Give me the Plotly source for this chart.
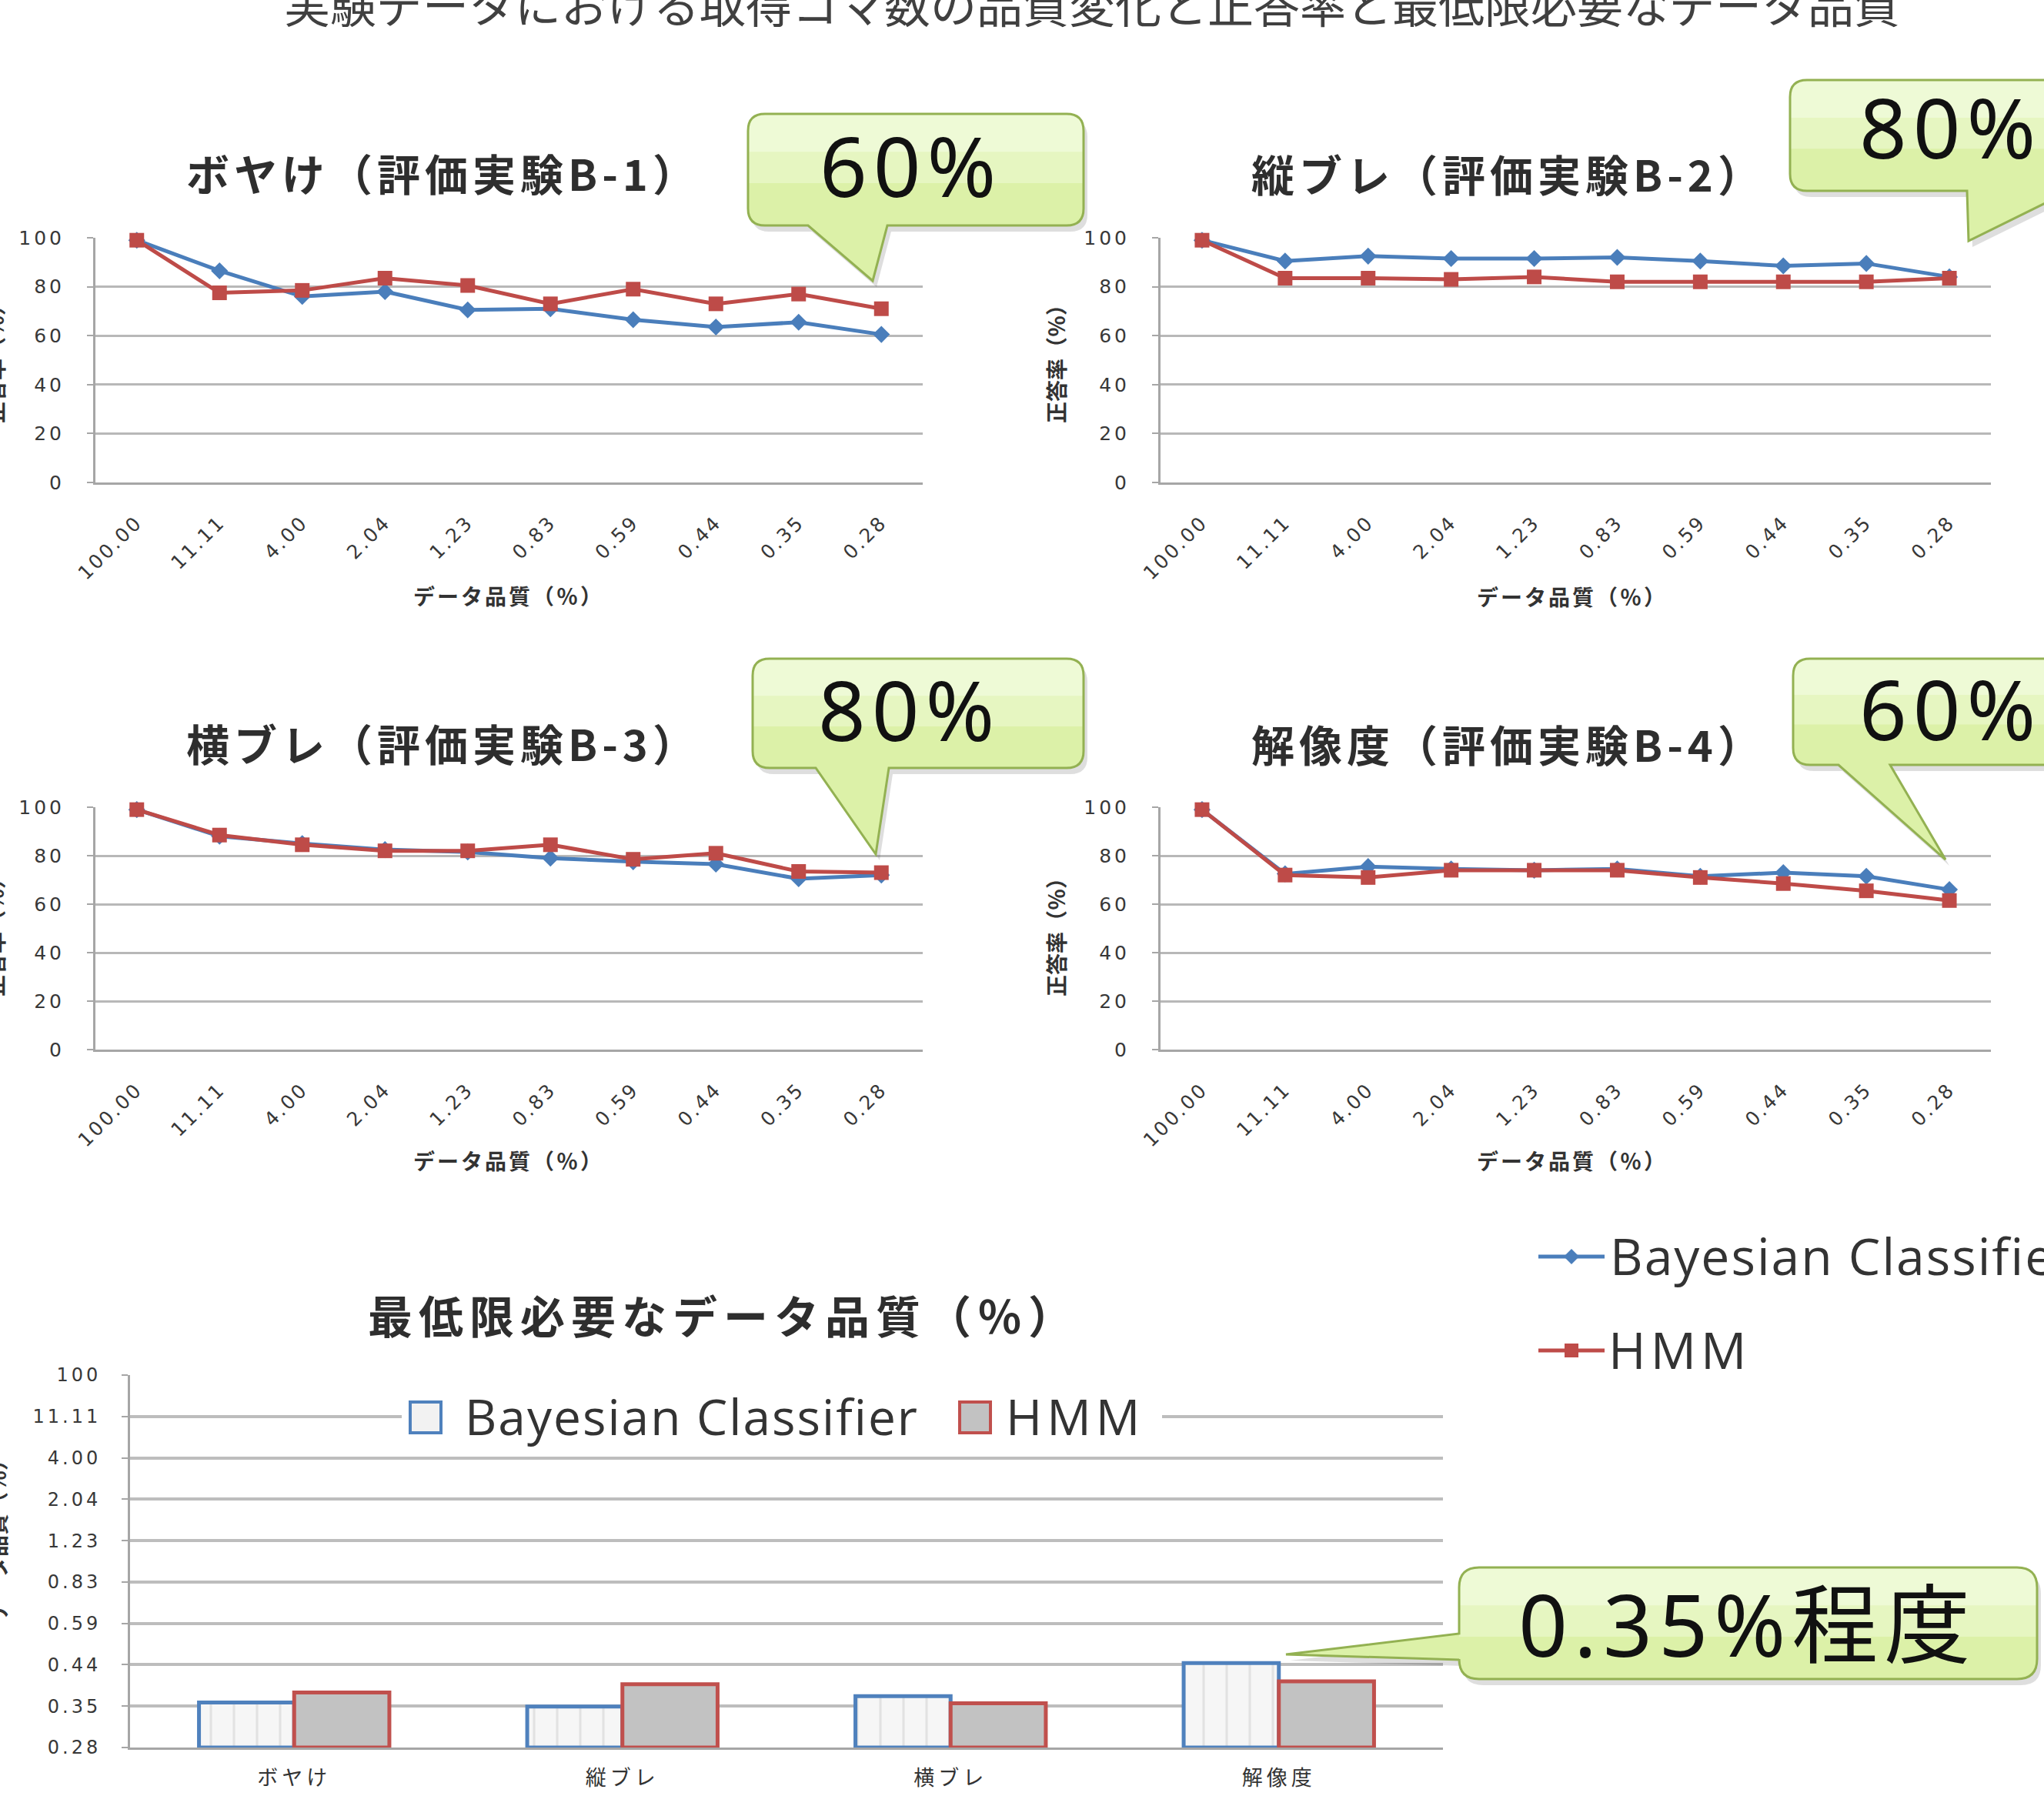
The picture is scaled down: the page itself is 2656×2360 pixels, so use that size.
import plotly.graph_objects as go

W, H = 2656, 2360

# ---------------- data ----------------
quality_labels = ['100.00', '11.11', '4.00', '2.04', '1.23', '0.83', '0.59', '0.44', '0.35', '0.28']

blur_bayes = [99, 86.5, 76, 78, 70.5, 71, 66.5, 63.5, 65.5, 60.5]
blur_hmm = [99, 77.5, 78.5, 83.5, 80.5, 73, 79, 73, 77, 71]

vshake_bayes = [99, 90.5, 92.5, 91.5, 91.5, 92, 90.5, 88.5, 89.5, 84]
vshake_hmm = [99, 83.5, 83.5, 83, 84, 82, 82, 82, 82, 83.5]

hshake_bayes = [99, 88, 85, 82.5, 81.5, 79, 77.5, 76.5, 70.5, 72]
hshake_hmm = [99, 88.5, 84.5, 82, 82, 84.5, 78.5, 81, 73.5, 73]

reso_bayes = [99, 72.5, 75.5, 74.5, 74, 74.5, 71.5, 73, 71.5, 66]
reso_hmm = [99, 72, 71, 74, 74, 74, 71, 68.5, 65.5, 61.5]

accuracy_ticks = [0, 20, 40, 60, 80, 100]

panel_titles = ['ボヤけ（評価実験B-1）', '縦ブレ（評価実験B-2）', '横ブレ（評価実験B-3）', '解像度（評価実験B-4）']
panel_notes = ['60%', '80%', '80%', '60%']

bar_categories = ['ボヤけ', '縦ブレ', '横ブレ', '解像度']
# bar heights on the quality-level scale (0 = 0.28 %, 9 = 100 %)
bayes_min_level = [1.09, 0.99, 1.24, 2.04]
hmm_min_level = [1.33, 1.53, 1.07, 1.60]
level_labels = ['0.28', '0.35', '0.44', '0.59', '0.83', '1.23', '2.04', '4.00', '11.11', '100']
bar_note = '0.35%程度'

series_names = ['Bayesian Classifier', 'HMM']
main_title = '実験データにおける取得コマ数の品質変化と正答率と最低限必要なデータ品質'
x_title = 'データ品質（％）'
y_title = '正答率（％）'
bar_title = '最低限必要なデータ品質（％）'

BLUE = '#4a7ebb'
RED = '#be4b48'
GRID = '#b8b8b8'
AXIS = '#a6a6a6'
TXT = '#3a3a3a'
JP = 'Noto Sans CJK JP'


def fx(x):
    return x / W


def fy(y):
    return 1 - y / H


def pt(x, y):
    return f'{fx(x):.5f},{fy(y):.5f}'


def spaced(s, px):
    """Wrap text in a span with extra letter spacing (wide Excel-style lettering)."""
    return f'<span style="letter-spacing:{px}px">{s}</span>'


# ---------------- figure ----------------
fig = go.Figure()

panels = [
    (blur_bayes, blur_hmm, (124, 1199), (309, 627)),
    (vshake_bayes, vshake_hmm, (1508, 2587), (309, 627)),
    (hshake_bayes, hshake_hmm, (124, 1199), (1049, 1364)),
    (reso_bayes, reso_hmm, (1508, 2587), (1049, 1364)),
]

layout_axes = {}
for i, (bayes, hmm, (x0, x1), (y0, y1)) in enumerate(panels, start=1):
    xa = 'x' if i == 1 else f'x{i}'
    ya = 'y' if i == 1 else f'y{i}'
    fig.add_trace(go.Scatter(
        x=quality_labels, y=bayes, xaxis=xa, yaxis=ya, mode='lines+markers',
        name=series_names[0], showlegend=False, cliponaxis=False,
        line=dict(color=BLUE, width=5),
        marker=dict(symbol='diamond', size=17, color=BLUE)))
    fig.add_trace(go.Scatter(
        x=quality_labels, y=hmm, xaxis=xa, yaxis=ya, mode='lines+markers',
        name=series_names[1], showlegend=False, cliponaxis=False,
        line=dict(color=RED, width=5),
        marker=dict(symbol='square', size=19, color=RED)))
    layout_axes['xaxis' if i == 1 else f'xaxis{i}'] = dict(
        domain=[fx(x0), fx(x1)], anchor=ya, type='category', range=[-0.5, 9.5],
        automargin=False,
        tickmode='array', tickvals=quality_labels,
        ticktext=[spaced(t, 3) for t in quality_labels],
        showgrid=False, showline=True, linecolor=AXIS, linewidth=3,
        ticks='', tickangle=-45, ticklabelstandoff=24,
        tickfont=dict(size=25, color='#383838', family='DejaVu Sans'))
    layout_axes['yaxis' if i == 1 else f'yaxis{i}'] = dict(
        domain=[fy(y1), fy(y0)], anchor=xa, range=[0, 100], automargin=False,
        tickmode='array', tickvals=accuracy_ticks,
        ticktext=[spaced(str(t), 4) for t in accuracy_ticks],
        showgrid=True, gridcolor=GRID, gridwidth=3, zeroline=False,
        showline=True, linecolor=AXIS, linewidth=3,
        ticks='outside', ticklen=8, tickcolor=AXIS, tickwidth=2, ticklabelstandoff=24,
        tickfont=dict(size=25, color='#383838', family='DejaVu Sans'))

# minimum required quality bar chart
fig.add_trace(go.Bar(
    x=bar_categories, y=bayes_min_level, xaxis='x5', yaxis='y5', name=series_names[0],
    showlegend=False,
    marker=dict(color='#f4f4f4', line=dict(color='#4f81bd', width=5),
                pattern=dict(shape='|', fgcolor='#cdcdcd', bgcolor='#f6f6f6', size=30, solidity=0.1))))
fig.add_trace(go.Bar(
    x=bar_categories, y=hmm_min_level, xaxis='x5', yaxis='y5', name=series_names[1],
    showlegend=False,
    marker=dict(color='#c2c2c2', line=dict(color='#c0504d', width=5))))

layout_axes['xaxis5'] = dict(
    domain=[fx(169), fx(1875)], anchor='y5', type='category', range=[-0.5, 3.5],
    automargin=False,
    tickmode='array', tickvals=bar_categories,
    ticktext=[spaced(c, 5) for c in bar_categories],
    showgrid=False, showline=True, linecolor=AXIS, linewidth=3, ticks='',
    ticklabelstandoff=14, tickfont=dict(size=27, color='#333333', family=JP))
layout_axes['yaxis5'] = dict(
    domain=[fy(2271), fy(1787)], anchor='x5', range=[0, 9], automargin=False,
    tickmode='array', tickvals=list(range(len(level_labels))),
    ticktext=[spaced(t, 4) for t in level_labels],
    showgrid=True, gridcolor='#bdbdbd', gridwidth=4, zeroline=False,
    showline=True, linecolor=AXIS, linewidth=3,
    ticks='outside', ticklen=8, tickcolor=AXIS, tickwidth=2, ticklabelstandoff=22,
    tickfont=dict(size=24, color='#383838', family='DejaVu Sans'))

# ---------------- callouts ----------------
shapes = []


def callout_path(x0, y0, x1, y1, side, a, b, tip, r):
    tx, ty = tip
    if side == 'bottom':
        return (f'M{pt(x0 + r, y0)} L{pt(x1 - r, y0)} Q{pt(x1, y0)} {pt(x1, y0 + r)} '
                f'L{pt(x1, y1 - r)} Q{pt(x1, y1)} {pt(x1 - r, y1)} '
                f'L{pt(b, y1)} L{pt(tx, ty)} L{pt(a, y1)} '
                f'L{pt(x0 + r, y1)} Q{pt(x0, y1)} {pt(x0, y1 - r)} '
                f'L{pt(x0, y0 + r)} Q{pt(x0, y0)} {pt(x0 + r, y0)} Z')
    return (f'M{pt(x0 + r, y0)} L{pt(x1 - r, y0)} Q{pt(x1, y0)} {pt(x1, y0 + r)} '
            f'L{pt(x1, y1 - r)} Q{pt(x1, y1)} {pt(x1 - r, y1)} '
            f'L{pt(x0 + r, y1)} Q{pt(x0, y1)} {pt(x0, y1 - r)} '
            f'L{pt(x0, b)} L{pt(tx, ty)} L{pt(x0, a)} '
            f'L{pt(x0, y0 + r)} Q{pt(x0, y0)} {pt(x0 + r, y0)} Z')


def callout(x0, y0, x1, y1, side, a, b, tip, r=22):
    """Rounded speech bubble with a pointer on the bottom or left edge."""
    tx, ty = tip
    body = callout_path(x0, y0, x1, y1, side, a, b, tip, r)
    if side == 'bottom':
        shadow = callout_path(x0 + 5, y0 + 8, x1 + 5, y1 + 8, side, a + 5, b + 5, (tx + 5, ty + 8), r)
    else:
        shadow = callout_path(x0 + 5, y0 + 8, x1 + 5, y1 + 8, side, a + 8, b + 8, (tx + 5, ty + 8), r)
    shapes.append(dict(type='path', path=shadow, xref='paper', yref='paper', layer='above',
                       fillcolor='rgba(0,0,0,0.13)', line=dict(width=0)))
    shapes.append(dict(type='path', path=body, xref='paper', yref='paper', layer='above',
                       fillcolor='#dcf1a8', line=dict(width=0)))
    for frac, col in [(0.62, '#e6f6c1'), (0.34, '#eefad6')]:
        yb = y0 + frac * (y1 - y0)
        band = (f'M{pt(x0, yb)} L{pt(x0, y0 + r)} Q{pt(x0, y0)} {pt(x0 + r, y0)} '
                f'L{pt(x1 - r, y0)} Q{pt(x1, y0)} {pt(x1, y0 + r)} L{pt(x1, yb)} Z')
        shapes.append(dict(type='path', path=band, xref='paper', yref='paper', layer='above',
                           fillcolor=col, line=dict(width=0)))
    shapes.append(dict(type='path', path=body, xref='paper', yref='paper', layer='above',
                       fillcolor='rgba(0,0,0,0)', line=dict(color='#93b152', width=3)))


callout(972, 148, 1408, 293, 'bottom', 1050, 1153, (1134, 365))
callout(2326, 104, 2760, 248, 'bottom', 2556, 2690, (2558, 313))
callout(978, 856, 1408, 998, 'bottom', 1060, 1155, (1138, 1110))
callout(2330, 856, 2760, 994, 'bottom', 2389, 2456, (2528, 1117))
callout(1896, 2037, 2647, 2182, 'left', 2123, 2157, (1671, 2150), r=26)

# bar-chart legend backdrop and swatches
shapes.append(dict(type='rect', xref='paper', yref='paper', layer='above',
                   x0=fx(522), x1=fx(1510), y0=fy(1880), y1=fy(1803),
                   fillcolor='white', line=dict(width=0)))
shapes.append(dict(type='rect', xref='paper', yref='paper', layer='above',
                   x0=fx(533), x1=fx(573), y0=fy(1862), y1=fy(1822),
                   fillcolor='#f2f2f2', line=dict(color='#4f81bd', width=4)))
shapes.append(dict(type='rect', xref='paper', yref='paper', layer='above',
                   x0=fx(1247), x1=fx(1287), y0=fy(1862), y1=fy(1822),
                   fillcolor='#c2c2c2', line=dict(color='#c0504d', width=4)))

# line-chart legend swatches
for (yy, col, sym) in [(1633, BLUE, 'diamond'), (1755, RED, 'square')]:
    shapes.append(dict(type='line', xref='paper', yref='paper', layer='above',
                       x0=fx(1999), x1=fx(2085), y0=fy(yy), y1=fy(yy),
                       line=dict(color=col, width=5)))
    cx = 2042
    if sym == 'diamond':
        d = 10
        path = f'M{pt(cx, yy - d)} L{pt(cx + d, yy)} L{pt(cx, yy + d)} L{pt(cx - d, yy)} Z'
    else:
        d = 9
        path = f'M{pt(cx - d, yy - d)} L{pt(cx + d, yy - d)} L{pt(cx + d, yy + d)} L{pt(cx - d, yy + d)} Z'
    shapes.append(dict(type='path', path=path, xref='paper', yref='paper', layer='above',
                       fillcolor=col, line=dict(width=0)))

# ---------------- text ----------------
ann = []


def text(x, y, s, size, color=TXT, family=JP, xanchor='center', yanchor='middle', angle=0):
    ann.append(dict(x=fx(x), y=fy(y), xref='paper', yref='paper', text=s, showarrow=False,
                    xanchor=xanchor, yanchor=yanchor, textangle=angle,
                    font=dict(size=size, color=color, family=family)))


text(1419, 4, main_title, 60, color='#404040')

title_pos = [(576, 223), (1960, 225), (576, 964), (1960, 966)]
for (x, y), s in zip(title_pos, panel_titles):
    text(x, y, f'<b>{spaced(s, 6)}</b>', 56, color='#2e2e2e')

for x, y in [(661, 774), (2043, 775), (661, 1508), (2043, 1508)]:
    text(x, y, f'<b>{spaced(x_title, 3)}</b>', 28, color='#333333')

for x, y in [(-7, 466), (1372, 466), (-7, 1211), (1372, 1211)]:
    text(x, y, f'<b>{y_title}</b>', 28, color='#333333', angle=-90)

text(-4, 1995, f'<b>{x_title}</b>', 28, color='#333333', angle=-90)
text(940, 1708, f'<b>{spaced(bar_title, 8)}</b>', 58, color='#2e2e2e')

note_pos = [(1183, 215), (2414, 164), (1181, 921), (2414, 920)]
for (x, y), s in zip(note_pos, panel_notes):
    if x > 2000:
        text(x, y, spaced(s, 8), 108, color='#111111', family='Noto Sans', xanchor='left')
    else:
        text(x, y, spaced(s, 8), 108, color='#111111', family='Noto Sans')
text(2270, 2109, spaced(bar_note, 8), 112, color='#111111', family='Noto Sans, Noto Sans CJK JP')

# legends
text(2090, 1631, spaced(series_names[0], 2), 66, color='#333333', family='Open Sans', xanchor='left')
text(2088, 1753, spaced(series_names[1], 6), 66, color='#333333', family='Open Sans', xanchor='left')
text(602, 1840, spaced(series_names[0], 2), 64, color='#333333', family='Open Sans', xanchor='left')
text(1305, 1840, spaced(series_names[1], 6), 64, color='#333333', family='Open Sans', xanchor='left')

fig.update_layout(
    width=W, height=H, margin=dict(l=0, r=0, t=0, b=0, autoexpand=False),
    paper_bgcolor='white', plot_bgcolor='white',
    barmode='group', bargap=0.42, bargroupgap=0,
    showlegend=False, shapes=shapes, annotations=ann,
    **layout_axes)

fig.write_html('out.html')
